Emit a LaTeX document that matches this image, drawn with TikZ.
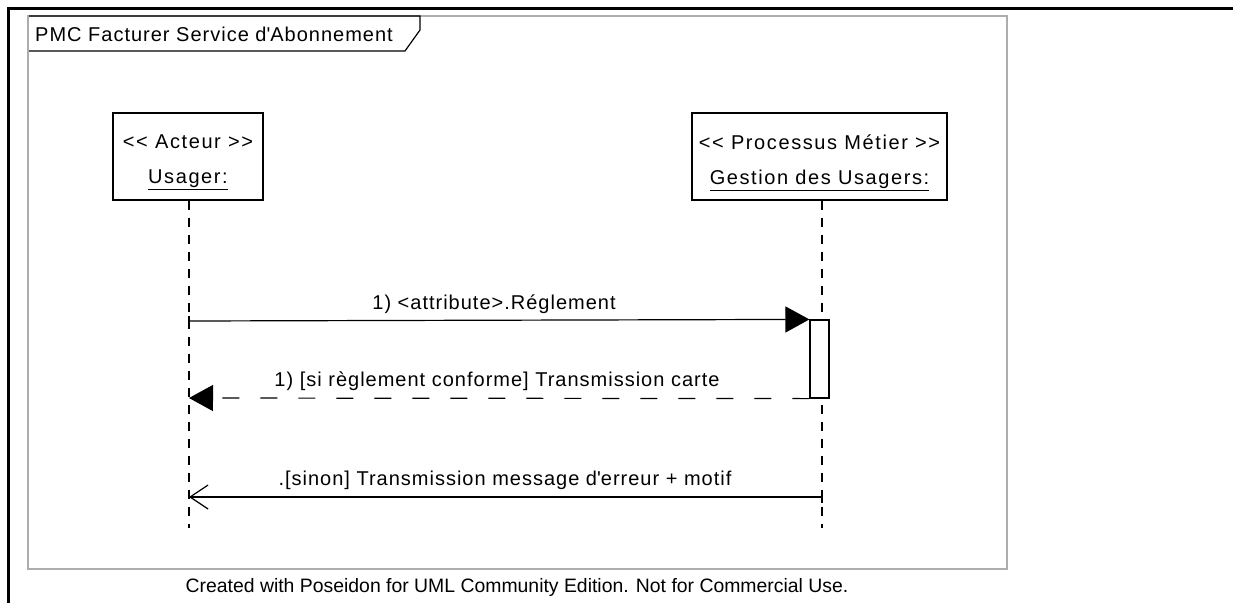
\documentclass[tikz,border=0pt]{standalone}
\usepackage{fontspec}
\setmainfont{Liberation Sans}
\newfontfamily\boxfont[LetterSpace=8]{Liberation Sans}
\newfontfamily\lblfont[LetterSpace=5]{Liberation Sans}
\usetikzlibrary{arrows.meta}
\definecolor{framegray}{gray}{0.68}
\begin{document}
\begin{tikzpicture}[x=1pt,y=-1pt,
  every node/.style={font=\fontsize{20}{24}\lblfont},
  boxtext/.style={font=\fontsize{20}{24}\boxfont},
  objbox/.style={draw,line width=1.2pt,minimum height=87pt,align=center,inner sep=0pt},
  lifeline/.style={line width=1.2pt,dash pattern=on 9pt off 8pt},
  msg/.style={line width=1.2pt},
  filledhead/.style={-{Triangle[length=24pt,width=26pt]}},
  openhead/.style={-{Straight Barb[length=18pt,width=24pt,line width=1.2pt]}},
  retdash/.style={dash pattern=on 17pt off 21pt},
  lbl/.style={inner sep=0pt,anchor=south}]
\useasboundingbox (0,0) rectangle (1233,603);
\fill[white] (0,0) rectangle (1233,603);
% outer black lines
\draw[line width=3pt] (8,603) -- (8,8) -- (1233,8);
% gray frame
\draw[framegray,line width=2pt] (28,16) rectangle (1007,569);
\draw[line width=1.2pt] (29,16) -- (420,16) -- (420,30) -- (405,51) -- (29,51);
\node[anchor=west,inner sep=0pt] (title) at (35,34) {PMC Facturer Service d\textquotesingle Abonnement};
% objects
\node[objbox,minimum width=150pt] (usager) at (188,156.5) {};
\node[boxtext] (usagerst) at (188,142) {{<}{<} Acteur {>}{>}};
\node[boxtext] (usagername) at (188,180) {\underline{Usager:}};
\node[objbox,minimum width=255pt] (gestion) at (819.5,156.5) {};
\node[boxtext] (gestionst) at (819.5,142) {{<}{<} Processus Métier {>}{>}};
\node[boxtext] (gestionname) at (819.5,180) {\underline{Gestion des Usagers:}};
% lifelines
\coordinate (uend) at (189,528);
\coordinate (gend) at (822,528);
\draw[lifeline] (usager.south -| uend) -- (uend);
\draw[lifeline] (gestion.south -| gend) -- (gend);
% activation
\node[draw,fill=white,line width=1.2pt,minimum width=19pt,minimum height=78pt,inner sep=0pt] (act) at (819.5,359) {};
% messages
\coordinate (m1s) at (189,321);
\coordinate (m2e) at (189,398);
\coordinate (m3s) at (822,497);
\coordinate (m3e) at (189,497);
\draw[msg,filledhead] (m1s) -- (act.north west);
\draw[line width=1.2pt] (189,316) -- (189,326);
\node[lbl] (l1) at (494,314) {1) {<}attribute{>}.Réglement};
\draw[msg,retdash,filledhead] (act.south west) -- (m2e);
\node[lbl] (l2) at (497,391) {1) [si règlement conforme] Transmission carte};
\draw[msg,openhead] (m3s) -- (m3e);
\draw[line width=1.2pt] (822,497) -- (822,503);
\node[lbl] (l3) at (505,490) {.[sinon] Transmission message d\textquotesingle erreur + motif};
% footer
\node[font=\fontsize{19.4}{23}\selectfont] (footer) at (517,587) {Created with Poseidon for UML Community Edition. Not for Commercial Use.};
\end{tikzpicture}
\end{document}
